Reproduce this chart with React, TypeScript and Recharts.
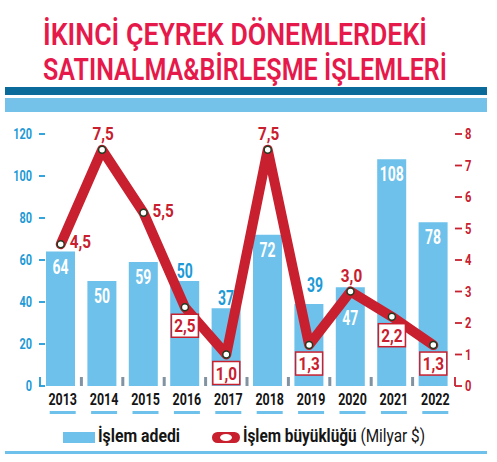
import React from 'react';
import { ComposedChart, Bar, Line, XAxis, YAxis, LabelList } from 'recharts';

// ---- data ----
const years = ['2013', '2014', '2015', '2016', '2017', '2018', '2019', '2020', '2021', '2022'];
const dealCount = [64, 50, 59, 50, 37, 72, 39, 47, 108, 78];
const dealSize = [4.5, 7.5, 5.5, 2.5, 1.0, 7.5, 1.3, 3.0, 2.2, 1.3];
const leftTicks = [0, 20, 40, 60, 80, 100, 120];
const rightTicks = [0, 1, 2, 3, 4, 5, 6, 7, 8];
const titleLines = ['İKINCİ ÇEYREK DÖNEMLERDEKİ', 'SATINALMA&BİRLEŞME İŞLEMLERİ'];
const legendCount = 'İşlem adedi';
const legendSize = 'İşlem büyüklüğü';
const legendUnit = '(Milyar $)';

// ---- style config (label placement) ----
const BAR_LABEL_OUTSIDE = [false, false, false, true, true, false, true, false, false, false];
const BAR_LABEL_DX = [0, 0, 0, 0, 0, 0, 6, 0, 0, 0];
const BAR_LABEL_DY = [0, 0, 0, 0, 0, 0, -9, 16, 0, 0];
const LINE_LABEL_POS = ['right', 'top', 'right', 'box', 'box', 'top', 'box', 'top', 'box', 'box'];

const FONT = 'Roboto, "Liberation Sans", sans-serif';
const BAR = '#6dc1ea';
const BLUE = '#1d9ad6';
const RED = '#c8202f';
const TITLE = '#e6194b';
const GREY = '#8193a3';
const DARK = '#0a6a9a';

const data = years.map((y, i) => ({ year: y, count: dealCount[i], size: dealSize[i] }));

const fmt = (v: number) => v.toFixed(1).replace('.', ',');

const CText = ({ x, y, sx = 0.75, anchor = 'middle', fill, size, weight = 'bold', children }: any) => (
  <text
    transform={`translate(${x},${y}) scale(${sx},1)`}
    textAnchor={anchor}
    fill={fill}
    fontSize={size}
    fontFamily={FONT}
    fontWeight={weight}
  >
    {children}
  </text>
);

// Condensed text fitted to a target width: scaled by sx, with textLength in local units.
const FitText = ({ x, y, sx, width, fill, size, weight = 'bold', children }: any) => (
  <text
    transform={`translate(${x},${y}) scale(${sx},1)`}
    fill={fill}
    fontSize={size}
    fontFamily={FONT}
    fontWeight={weight}
    textLength={width / sx}
    lengthAdjust="spacingAndGlyphs"
  >
    {children}
  </text>
);

const LeftTick = (props: any) => {
  const { x, y, payload } = props;
  const v = payload.value;
  return (
    <g>
      <CText x={x - 8} y={y + 5} anchor="end" fill={BLUE} size={14} sx={0.78}>{v}</CText>
      <line x1={x - 1} x2={x + 5} y1={y} y2={y} stroke={BLUE} strokeWidth={1.8} />
      {v === 0 && <line x1={x} x2={x} y1={y - 9} y2={y} stroke={BLUE} strokeWidth={1.8} />}
    </g>
  );
};

const RightTick = (props: any) => {
  const { x, y, payload } = props;
  const v = payload.value;
  return (
    <g>
      <line x1={x + 1} x2={x + 8} y1={y} y2={y} stroke={RED} strokeWidth={1.8} />
      {v === 0 && <line x1={x + 1} x2={x + 1} y1={y - 9} y2={y} stroke={RED} strokeWidth={1.8} />}
      <CText x={x + 11} y={y + 5} anchor="start" fill={RED} size={14} sx={0.8}>{v}</CText>
    </g>
  );
};

const XTick = (props: any) => {
  const { x, y, payload, index } = props;
  const half = payload && payload.offset ? payload.offset : 20.7;
  return (
    <g>
      <CText x={x + 2} y={y + 19} fill="#151515" size={16} sx={0.78}>{payload.value}</CText>
      <rect x={x - 11} y={y + 25} width={26} height={3} fill={BAR} />
      {index < years.length - 1 && (
        <rect x={x + half - 1.5} y={y - 9} width={3} height={9} fill={GREY} />
      )}
    </g>
  );
};

const BarLabel = (props: any) => {
  const { x, y, width, value, index } = props;
  const cx = x + width / 2 + BAR_LABEL_DX[index];
  const dy = BAR_LABEL_DY[index];
  if (BAR_LABEL_OUTSIDE[index]) {
    return <CText x={cx} y={y - 3 + dy} fill={BLUE} size={20} sx={0.7}>{value}</CText>;
  }
  return <CText x={cx} y={y + 22 + dy} fill="#ffffff" size={20} sx={0.7}>{value}</CText>;
};

const LineLabel = (props: any) => {
  const { x, y, value, index } = props;
  const pos = LINE_LABEL_POS[index];
  const t = fmt(value);
  if (pos === 'right') {
    return <CText x={x + 9} y={y + 4} anchor="start" fill={RED} size={18} sx={0.85}>{t}</CText>;
  }
  if (pos === 'top') {
    return <CText x={x + 1} y={y - 10} fill={RED} size={18} sx={0.85}>{t}</CText>;
  }
  const w = 27;
  const h = 23;
  const top = y + 7;
  return (
    <g>
      <rect x={x - w / 2} y={top} width={w} height={h} fill="#ffffff" stroke={RED} strokeWidth={1.5} />
      <CText x={x} y={top + 18} fill={RED} size={18} sx={0.85}>{t}</CText>
    </g>
  );
};

const Decor = () => (
  <svg width={497} height={462} style={{ position: 'absolute', left: 0, top: 0 }}>
    <FitText x={43} y={45} sx={0.8} width={384} fill={TITLE} size={32} weight={600}>
      {titleLines[0]}
    </FitText>
    <FitText x={43} y={80} sx={0.8} width={404} fill={TITLE} size={32} weight={600}>
      {titleLines[1]}
    </FitText>
    <rect x={5} y={87} width={482} height={8} fill={DARK} />
    <rect x={5} y={98} width={482} height={14} fill="#74c2ea" />

    <rect x={63} y={432} width={32} height={11} fill={BAR} />
    <FitText x={98} y={442} sx={0.82} width={82} fill="#151515" size={19}>
      {legendCount}
    </FitText>
    <rect x={212} y={432} width={28} height={11} rx={5.5} fill={RED} />
    <ellipse cx={226} cy={437.5} rx={6} ry={3.5} fill="#ffffff" />
    <FitText x={243} y={442} sx={0.77} width={182} fill="#151515" size={19}>
      <tspan fontWeight="bold">{legendSize}</tspan>
      <tspan fontWeight="normal">{' ' + legendUnit}</tspan>
    </FitText>
    <rect x={5} y={451} width={482} height={3} fill={BAR} />
  </svg>
);

export default function App() {
  return (
    <div style={{ position: 'absolute', left: 0, top: 0, width: 497, height: 462, background: '#fff', overflow: 'hidden' }}>
      <Decor />
      <div style={{ position: 'absolute', left: 0, top: 0 }}>
        <ComposedChart width={497} height={462} data={data} margin={{ top: 134, right: 0, bottom: 36, left: 0 }}>
          <XAxis
            dataKey="year"
            height={40}
            axisLine={false}
            tickLine={false}
            tickSize={0}
            tickMargin={0}
            interval={0}
            tick={<XTick />}
          />
          <YAxis
            yAxisId="left"
            orientation="left"
            width={40}
            domain={[0, 120]}
            ticks={leftTicks}
            axisLine={false}
            tickLine={false}
            tickSize={0}
            tickMargin={0}
            interval={0}
            tick={<LeftTick />}
          />
          <YAxis
            yAxisId="right"
            orientation="right"
            width={43}
            domain={[0, 8]}
            ticks={rightTicks}
            axisLine={false}
            tickLine={false}
            tickSize={0}
            tickMargin={0}
            interval={0}
            tick={<RightTick />}
          />
          <Bar yAxisId="left" dataKey="count" fill={BAR} barSize={29} isAnimationActive={false}>
            <LabelList dataKey="count" content={<BarLabel />} />
          </Bar>
          <Line
            yAxisId="right"
            type="linear"
            dataKey="size"
            stroke={RED}
            strokeWidth={10}
            strokeLinejoin="round"
            strokeLinecap="round"
            dot={{ r: 3.5, fill: '#ffffff', stroke: '#203a20', strokeWidth: 1.5 }}
            activeDot={false}
            isAnimationActive={false}
          >
            <LabelList dataKey="size" content={<LineLabel />} />
          </Line>
        </ComposedChart>
      </div>
    </div>
  );
}
